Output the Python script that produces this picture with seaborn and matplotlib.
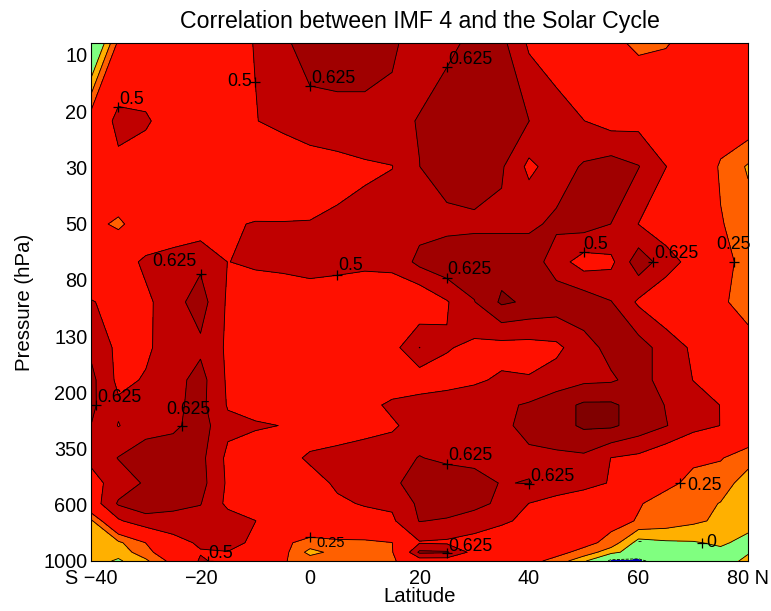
import numpy as np
import matplotlib
matplotlib.use("Agg")
import matplotlib.pyplot as plt
import seaborn as sns

sns.set_style("white")
plt.rcParams['font.family'] = ['Liberation Sans', 'DejaVu Sans']
plt.rcParams['text.color'] = 'black'
plt.rcParams['axes.labelcolor'] = 'black'
plt.rcParams['xtick.color'] = 'black'
plt.rcParams['ytick.color'] = 'black'

# ---------------- data ----------------
lats = list(range(-40, 81, 5))
pressures = [10, 20, 30, 50, 70, 100, 150, 200, 250, 300, 400, 500, 600, 700, 850, 925, 1000]

# correlation values, one list per pressure level (columns: -40 ... 80 by 5)
r10 = [-0.27, 0.28, 0.35, 0.40, 0.40, 0.45, 0.505, 0.60, 0.68, 0.70, 0.70, 0.64, 0.58, 0.60, 0.65, 0.66, 0.48, 0.42, 0.35, 0.30, 0.21, 0.24, 0.30, 0.35, 0.35]
r20 = [0.33, 0.55, 0.52, 0.42, 0.42, 0.45, 0.495, 0.54, 0.58, 0.58, 0.58, 0.60, 0.63, 0.68, 0.70, 0.68, 0.626, 0.56, 0.502, 0.45, 0.46, 0.38, 0.35, 0.35, 0.35]
r30 = [0.35, 0.46, 0.42, 0.40, 0.40, 0.42, 0.40, 0.39, 0.43, 0.46, 0.485, 0.497, 0.624, 0.70, 0.70, 0.64, 0.47, 0.56, 0.64, 0.68, 0.63, 0.502, 0.42, 0.23, 0.11]
r50 = [0.30, 0.22, 0.35, 0.40, 0.42, 0.49, 0.505, 0.505, 0.505, 0.52, 0.53, 0.56, 0.58, 0.58, 0.60, 0.60, 0.60, 0.65, 0.68, 0.624, 0.498, 0.42, 0.35, 0.26, 0.18]
r70 = [0.35, 0.42, 0.53, 0.56, 0.60, 0.498, 0.52, 0.54, 0.55, 0.54, 0.53, 0.53, 0.66, 0.72, 0.70, 0.70, 0.70, 0.56, 0.44, 0.47, 0.70, 0.56, 0.45, 0.30, 0.20]
r100 = [0.51, 0.45, 0.47, 0.58, 0.68, 0.48, 0.42, 0.40, 0.43, 0.42, 0.40, 0.42, 0.38, 0.49, 0.62, 0.77, 0.73, 0.70, 0.70, 0.63, 0.48, 0.40, 0.33, 0.27, 0.20]
r150 = [0.60, 0.47, 0.48, 0.56, 0.60, 0.48, 0.42, 0.40, 0.42, 0.40, 0.40, 0.45, 0.627, 0.51, 0.47, 0.45, 0.45, 0.47, 0.58, 0.66, 0.68, 0.57, 0.48, 0.40, 0.30]
r200 = [0.66, 0.47, 0.51, 0.58, 0.67, 0.48, 0.40, 0.38, 0.38, 0.38, 0.38, 0.40, 0.42, 0.45, 0.48, 0.52, 0.51, 0.56, 0.60, 0.61, 0.67, 0.58, 0.498, 0.43, 0.38]
r250 = [0.65, 0.52, 0.55, 0.60, 0.66, 0.49, 0.45, 0.42, 0.40, 0.40, 0.45, 0.53, 0.56, 0.57, 0.58, 0.60, 0.64, 0.70, 0.77, 0.77, 0.70, 0.62, 0.55, 0.498, 0.42]
r300 = [0.624, 0.495, 0.57, 0.60, 0.68, 0.53, 0.515, 0.497, 0.42, 0.42, 0.45, 0.48, 0.56, 0.58, 0.60, 0.60, 0.66, 0.70, 0.77, 0.77, 0.70, 0.63, 0.56, 0.498, 0.42]
r400 = [0.53, 0.63, 0.70, 0.70, 0.66, 0.47, 0.42, 0.45, 0.52, 0.55, 0.57, 0.58, 0.63, 0.60, 0.60, 0.58, 0.60, 0.60, 0.60, 0.498, 0.47, 0.40, 0.27, 0.26, 0.17]
r500 = [0.45, 0.56, 0.64, 0.70, 0.67, 0.48, 0.42, 0.40, 0.45, 0.52, 0.57, 0.60, 0.68, 0.70, 0.66, 0.62, 0.63, 0.58, 0.55, 0.49, 0.42, 0.28, 0.22, 0.18, 0.07]
r600 = [0.42, 0.64, 0.66, 0.66, 0.63, 0.47, 0.42, 0.40, 0.40, 0.48, 0.51, 0.52, 0.65, 0.70, 0.66, 0.60, 0.498, 0.45, 0.40, 0.38, 0.26, 0.20, 0.17, 0.12, 0.05]
r700 = [0.10, 0.48, 0.60, 0.58, 0.58, 0.56, 0.502, 0.42, 0.40, 0.42, 0.45, 0.48, 0.63, 0.61, 0.57, 0.52, 0.47, 0.42, 0.38, 0.30, 0.24, 0.20, 0.15, 0.10, 0.05]
r850 = [0.06, 0.10, 0.252, 0.45, 0.52, 0.55, 0.47, 0.28, 0.20, 0.22, 0.22, 0.248, 0.49, 0.48, 0.45, 0.42, 0.40, 0.38, 0.30, 0.20, -0.05, -0.02, -0.01, 0.02, -0.04]
r925 = [0.05, 0.05, 0.20, 0.38, 0.49, 0.495, 0.42, 0.30, 0.08, 0.17, 0.20, 0.24, 0.65, 0.64, 0.45, 0.40, 0.36, 0.30, 0.20, 0.05, -0.10, -0.08, -0.06, -0.03, -0.01]
r1000 = [0.06, -0.02, 0.10, 0.30, 0.52, 0.45, 0.40, 0.26, 0.20, 0.20, 0.22, 0.22, 0.42, 0.42, 0.40, 0.35, 0.30, 0.20, 0.03, -0.30, -0.30, -0.12, -0.10, -0.06, 0.03]

levels = [-1.0, -0.25, 0.0, 0.125, 0.25, 0.5, 0.625, 0.75, 1.0]
band_colors = ["#0000C8", "#80FF80", "#FFB000", "#FF6000", "#FF1000", "#C00000", "#A00000", "#800000"]

ytick_labels = ["1000", "600", "350", "200", "130", "80", "50", "30", "20", "10"]
xtick_values = [-40, -20, 0, 20, 40, 60, 80]
xtick_labels = ["S \u221240", "\u221220", "0", "20", "40", "60", "80 N"]

# contour labels: level, approx lat, approx height (km), text, dx, dy (pixels), ha, va, size
label_specs = [
    (0.5, -10.4, 29.5, "0.5", -3, 0, "right", "center", 12.7),
    (0.625, -2.4, 30.8, "0.625", 1, 3, "left", "baseline", 12.7),
    (0.5, -35.6, 27.9, "0.5", 1, 3, "left", "baseline", 12.7),
    (0.625, 24.3, 30.1, "0.625", 1, 3, "left", "baseline", 12.7),
    (0.625, -19.4, 17.0, "0.625", -4, 8, "right", "baseline", 12.7),
    (0.5, 7.5, 17.6, "0.5", 1, 5, "left", "baseline", 12.7),
    (0.625, 25.3, 17.2, "0.625", 0, 4, "left", "baseline", 12.7),
    (0.5, 49.8, 19.2, "0.5", 0, 3, "left", "baseline", 12.7),
    (0.625, 61.7, 19.1, "0.625", 1, 4, "left", "baseline", 12.7),
    (0.25, 77.1, 19.8, "0.25", -1, 13, "center", "baseline", 12.7),
    (0.625, -38.2, 9.1, "0.625", 1, 3, "left", "baseline", 12.7),
    (0.625, -23.1, 9.05, "0.625", 7, 12, "center", "baseline", 12.7),
    (0.625, 24.3, 5.6, "0.625", 1, 4, "left", "baseline", 12.7),
    (0.625, 38.8, 4.7, "0.625", 1, 3, "left", "baseline", 12.7),
    (0.25, 66.7, 4.9, "0.25", 8, -2, "left", "center", 12.7),
    (0.25, 1.6, 1.41, "0.25", 6, -6, "left", "center", 10.5),
    (0.625, 23.7, 0.48, "0.625", 1, 2, "left", "baseline", 12.7),
    (0.5, -19.0, 0.17, "0.5", 0, 3, "left", "baseline", 12.7),
    (0.0, 72.0, 1.31, "0", 4, 0, "left", "center", 12.7),
]

# ---------------- figure ----------------
corr = np.array([r10, r20, r30, r50, r70, r100, r150, r200, r250, r300,
                 r400, r500, r600, r700, r850, r925, r1000])
height = -7.0 * np.log(np.array(pressures) / 1000.0)
LAT, HGT = np.meshgrid(lats, height)

fig = plt.figure(figsize=(7.71, 6.11), dpi=100)
ax = fig.add_axes([91 / 771, 50 / 611, 657 / 771, 518 / 611])

ax.contourf(LAT, HGT, corr, levels=levels, colors=band_colors)
line_levels = levels[1:-1]
cl = ax.contour(LAT, HGT, corr, levels=line_levels, colors="k", linewidths=0.6)

ax.set_xlim(-40, 80)
ax.set_ylim(0, height[0])
ax.set_xticks(xtick_values)
ax.set_xticklabels(xtick_labels)
ax.set_yticks([3.5 * k for k in range(len(ytick_labels))])
ax.set_yticklabels(ytick_labels)
ax.tick_params(axis="both", length=0, labelsize=14.3, colors="black")
ax.tick_params(axis="x", pad=6)
ax.tick_params(axis="y", pad=2.7)
for sp in ax.spines.values():
    sp.set_visible(True)
    sp.set_color("black")
    sp.set_linewidth(0.8)

ax.set_title("Correlation between IMF 4 and the Solar Cycle", fontsize=16.7,
             pad=10.8, color="black")
ax.set_xlabel("Latitude", fontsize=14.7, labelpad=-1)
ax.set_ylabel("Pressure (hPa)", fontsize=14.7, labelpad=6.5)

# contour labels in the MATLAB clabel style: '+' on the line, text beside it
fig.canvas.draw()
paths = cl.get_paths()
for lv, la, hz, txt, dx, dy, ha, va, fs in label_specs:
    idx = line_levels.index(lv)
    verts = paths[idx].vertices
    if len(verts) == 0:
        continue
    disp = ax.transData.transform(verts)
    target = ax.transData.transform((la, hz))
    k = int(np.argmin(np.sum((disp - target) ** 2, axis=1)))
    px, py = verts[k]
    ax.plot([px], [py], marker="+", color="k", ms=7, mew=0.9, zorder=5)
    ax.annotate(txt, (px, py), xytext=(dx, dy), textcoords="offset pixels",
                ha=ha, va=va, fontsize=fs, color="black", zorder=6)

ax.text(60.1, 1.18, "-", fontsize=9, ha="center", va="center", color="black")

fig.savefig("out.png", dpi=100)
